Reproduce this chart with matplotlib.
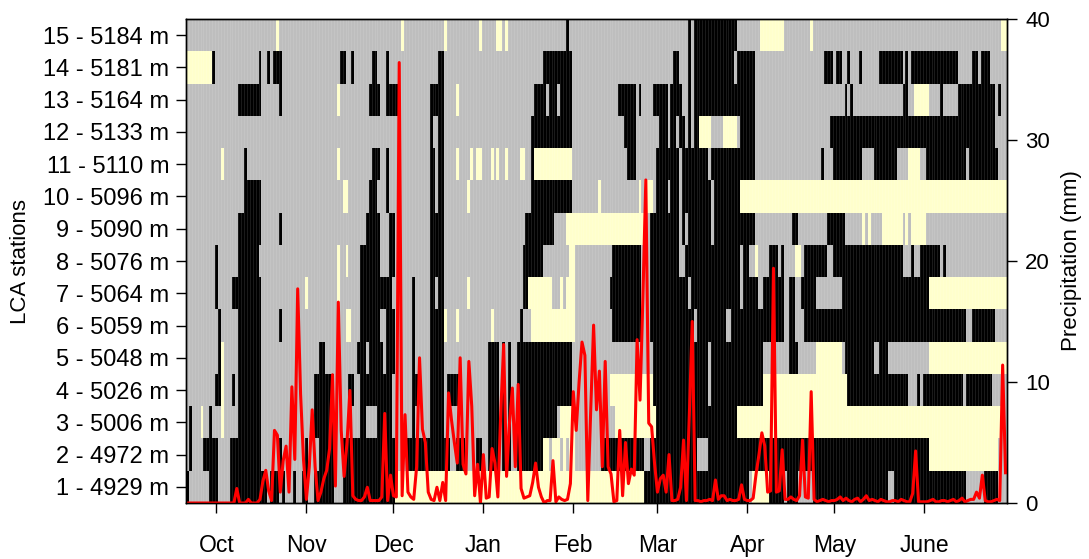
import datetime as dt

import numpy as np
import matplotlib
matplotlib.use("Agg")
import matplotlib.pyplot as plt
import matplotlib.dates as mdates
from matplotlib.colors import ListedColormap

plt.rcParams["font.family"] = ["Liberation Sans", "DejaVu Sans"]

# day 0 = 21 Sep 2011, last day = 29 Jun 2012
start = dt.date(2011, 9, 21)
ndays = 283

stations = ["1 - 4929 m", "2 - 4972 m", "3 - 5006 m", "4 - 5026 m", "5 - 5048 m",
            "6 - 5059 m", "7 - 5064 m", "8 - 5076 m", "9 - 5090 m", "10 - 5096 m",
            "11 - 5110 m", "12 - 5133 m", "13 - 5164 m", "14 - 5181 m", "15 - 5184 m"]

# runs of (state, first day, last day); b = black, y = yellow, rest is gray
st01 = [("b", 0, 0), ("b", 8, 10), ("b", 15, 25), ("b", 26, 27), ("b", 29, 31), ("b", 33, 33),
        ("b", 37, 37), ("b", 40, 41), ("b", 44, 50), ("b", 54, 71), ("y", 72, 157),
        ("b", 158, 193), ("y", 195, 200), ("b", 201, 205), ("b", 207, 210), ("b", 216, 241),
        ("b", 244, 268), ("b", 275, 279)]
st02 = [("b", 1, 1), ("b", 6, 10), ("b", 15, 25), ("b", 32, 32), ("b", 41, 41), ("b", 46, 50),
        ("b", 54, 71), ("b", 76, 90), ("b", 93, 95), ("b", 100, 101), ("b", 104, 107),
        ("b", 109, 109), ("b", 111, 111), ("b", 114, 122), ("y", 123, 124), ("y", 126, 128),
        ("y", 130, 130), ("y", 132, 133), ("b", 143, 157), ("b", 160, 175), ("b", 180, 255),
        ("y", 256, 279)]
st03 = [("b", 1, 1), ("y", 5, 5), ("b", 8, 8), ("y", 12, 12), ("b", 18, 25), ("b", 44, 50),
        ("b", 60, 61), ("b", 66, 70), ("b", 78, 78), ("b", 84, 88), ("b", 104, 107),
        ("b", 109, 109), ("b", 111, 111), ("b", 114, 127), ("y", 129, 133), ("y", 148, 161),
        ("b", 162, 189), ("y", 190, 280)]
st04 = [("b", 10, 11), ("y", 12, 12), ("b", 16, 16), ("b", 18, 25), ("b", 44, 50),
        ("b", 56, 57), ("b", 60, 70), ("b", 78, 79), ("b", 84, 88), ("b", 90, 94),
        ("b", 104, 107), ("b", 109, 109), ("b", 111, 111), ("b", 114, 132), ("y", 146, 160),
        ("b", 161, 179), ("b", 181, 198), ("y", 199, 227), ("b", 228, 248), ("b", 252, 252),
        ("b", 254, 267), ("b", 269, 277)]
st05 = [("b", 11, 11), ("y", 12, 12), ("b", 18, 25), ("b", 46, 47), ("b", 59, 61),
        ("b", 63, 67), ("b", 69, 71), ("b", 78, 78), ("b", 84, 88), ("b", 104, 107),
        ("b", 109, 109), ("b", 111, 111), ("b", 114, 132), ("b", 161, 179), ("b", 181, 198),
        ("b", 208, 210), ("y", 217, 225), ("b", 227, 236), ("b", 239, 241), ("y", 256, 282)]
st06 = [("b", 11, 11), ("b", 18, 25), ("b", 32, 32), ("y", 55, 56), ("b", 60, 66),
        ("b", 69, 71), ("b", 78, 78), ("b", 84, 88), ("y", 89, 89), ("y", 93, 93),
        ("y", 105, 105), ("b", 115, 115), ("y", 119, 133), ("b", 147, 156), ("b", 160, 174),
        ("b", 176, 185), ("b", 188, 201), ("b", 203, 205), ("b", 208, 209), ("b", 213, 268),
        ("b", 271, 278)]
st07 = [("b", 10, 10), ("b", 16, 25), ("y", 41, 41), ("y", 52, 52), ("b", 60, 66),
        ("b", 67, 70), ("b", 78, 78), ("b", 84, 85), ("b", 87, 88), ("y", 97, 97),
        ("b", 116, 117), ("y", 118, 125), ("y", 129, 129), ("y", 131, 133), ("b", 146, 156),
        ("b", 160, 172), ("b", 174, 190), ("b", 192, 196), ("b", 199, 205), ("b", 208, 209),
        ("b", 212, 216), ("b", 226, 255), ("y", 256, 282)]
st08 = [("b", 10, 10), ("b", 18, 24), ("y", 52, 52), ("y", 55, 55), ("b", 60, 66),
        ("b", 70, 71), ("b", 84, 88), ("b", 116, 122), ("y", 132, 133), ("b", 147, 156),
        ("b", 160, 169), ("b", 172, 190), ("b", 192, 193), ("y", 196, 196), ("b", 201, 203),
        ("b", 205, 205), ("y", 210, 211), ("b", 213, 220), ("b", 223, 246), ("b", 250, 250),
        ("b", 253, 259), ("b", 261, 261)]
st09 = [("b", 18, 25), ("b", 32, 32), ("b", 62, 66), ("b", 70, 71), ("b", 84, 88),
        ("b", 117, 126), ("y", 131, 131), ("y", 132, 157), ("b", 160, 169), ("b", 171, 171),
        ("b", 173, 180), ("b", 182, 195), ("b", 209, 210), ("b", 221, 226), ("y", 233, 233),
        ("y", 235, 235), ("y", 240, 246), ("y", 248, 248), ("y", 250, 254)]
st10 = [("b", 20, 25), ("y", 54, 55), ("b", 63, 65), ("b", 69, 69), ("b", 84, 85),
        ("b", 87, 88), ("y", 97, 97), ("b", 119, 132), ("y", 142, 142), ("y", 156, 156),
        ("y", 158, 160), ("b", 162, 165), ("b", 167, 169), ("b", 171, 180), ("b", 182, 190),
        ("y", 191, 282)]
st11 = [("y", 12, 12), ("b", 20, 20), ("y", 52, 52), ("b", 64, 66), ("b", 69, 69),
        ("b", 84, 85), ("b", 87, 88), ("y", 93, 93), ("y", 98, 98), ("y", 100, 101),
        ("y", 105, 105), ("y", 107, 107), ("y", 110, 110), ("y", 115, 116), ("b", 119, 119),
        ("y", 120, 132), ("b", 152, 154), ("b", 162, 169), ("b", 171, 179), ("b", 181, 195),
        ("b", 219, 219), ("b", 223, 232), ("b", 237, 244), ("y", 249, 252), ("b", 255, 268),
        ("b", 270, 279)]
st12 = [("b", 84, 84), ("b", 87, 88), ("b", 119, 132), ("b", 151, 154), ("b", 163, 165),
        ("b", 167, 168), ("b", 170, 171), ("b", 173, 173), ("b", 175, 176), ("y", 177, 180),
        ("y", 185, 189), ("b", 191, 195), ("b", 222, 278)]
st13 = [("b", 18, 25), ("b", 32, 32), ("y", 52, 52), ("b", 63, 66), ("b", 69, 72),
        ("b", 84, 88), ("y", 93, 93), ("b", 120, 123), ("b", 125, 127), ("b", 129, 132),
        ("b", 149, 154), ("b", 156, 156), ("b", 161, 165), ("b", 167, 170), ("b", 173, 173),
        ("b", 175, 195), ("b", 227, 227), ("b", 229, 229), ("b", 247, 248), ("y", 251, 255),
        ("b", 260, 260), ("b", 266, 278), ("b", 280, 280)]
st14 = [("y", 0, 8), ("b", 9, 9), ("b", 25, 25), ("b", 28, 28), ("b", 30, 32), ("b", 53, 54),
        ("b", 57, 57), ("b", 64, 65), ("b", 69, 69), ("b", 87, 88), ("b", 123, 132),
        ("b", 168, 169), ("b", 173, 173), ("b", 175, 188), ("b", 190, 195), ("b", 220, 222),
        ("b", 224, 225), ("b", 228, 228), ("b", 232, 232), ("b", 239, 246), ("b", 248, 248),
        ("b", 250, 265), ("b", 271, 272), ("b", 274, 276)]
st15 = [("y", 31, 31), ("y", 74, 74), ("y", 89, 89), ("y", 101, 101), ("y", 107, 108),
        ("y", 110, 110), ("b", 131, 131), ("b", 173, 173), ("b", 175, 189), ("y", 198, 205),
        ("y", 215, 215), ("y", 281, 282)]

# daily precipitation (mm)
precip = [0, 0, 0, 0, 0, 0, 0, 0, 0, 0, 0, 0, 0, 0, 0, 0, 0, 1.2, 0, 0,
          0, 0.3, 0, 0, 0, 0.3, 1.8, 2.7, 1.0, 0.2, 6.0, 5.6, 0.9, 3.5, 4.7, 0.9, 9.6, 3.6, 17.7, 9.0,
          3.6, 0.3, 3.0, 7.7, 3.0, 0.2, 0.9, 2.0, 2.7, 4.5, 10.6, 1.4, 16.6, 6.0, 2.2, 5.0, 9.3, 0.6, 0.3, 0.2,
          0.2, 0.5, 1.3, 0.2, 0.2, 0.2, 0.2, 0.5, 7.4, 0.2, 2.3, 0.6, 0.5, 36.4, 0.6, 7.3, 0.9, 0.5, 0.3, 3.0,
          12.0, 6.1, 5.0, 0.9, 0.3, 0.2, 1.3, 0.2, 1.7, 0.2, 9.1, 6.9, 5.0, 3.3, 12.0, 3.2, 2.4, 11.7, 8.0, 0.6,
          3.2, 0.0, 4.0, 0.4, 0.5, 4.5, 3.3, 0.5, 7.5, 13.1, 2.2, 6.6, 9.5, 3.0, 9.8, 1.2, 0.4, 0.5, 0.6, 1.7,
          3.3, 1.3, 0.5, 0.0, 0.2, 0.2, 3.5, 0.1, 0.5, 0.3, 0.2, 0.3, 1.6, 9.2, 6.0, 10.0, 13.3, 12.2, 0.2, 7.6,
          14.7, 7.7, 10.9, 3.0, 11.7, 3.0, 2.4, 0.1, 0.2, 6.0, 0.6, 5.0, 1.6, 2.8, 2.3, 13.5, 8.5, 17.0, 26.7, 6.6,
          6.3, 3.3, 0.9, 2.0, 2.3, 0.9, 4.0, 0.2, 0.2, 0.3, 1.3, 5.2, 0.2, 7.3, 15.0, 0.2, 0.2, 0.1, 0.2, 0.2,
          0.3, 0.2, 1.9, 0.3, 0.6, 0.6, 0.2, 0.3, 0.2, 0.2, 0.3, 1.5, 0.3, 0.2, 0.2, 0.4, 2.4, 4.0, 5.8, 4.7,
          0.9, 1.0, 19.4, 0.9, 1.0, 4.4, 0.3, 0.3, 0.5, 0.3, 0.2, 0.6, 5.2, 0.5, 0.4, 9.2, 0.3, 0.1, 0.2, 0.3,
          0.2, 0.1, 0.2, 0.2, 0.3, 0.5, 0.2, 0.4, 0.2, 0.1, 0.3, 0.4, 0.1, 0.3, 0.6, 0.2, 0.3, 0.2, 0.1, 0.3,
          0.2, 0.1, 0.1, 0.2, 0.2, 0.1, 0.3, 0.2, 0.1, 0.1, 0.8, 4.3, 0.1, 0.1, 0.1, 0.1, 0.2, 0.3, 0.1, 0.1,
          0.2, 0.2, 0.1, 0.2, 0.3, 0.1, 0.2, 0.4, 0.1, 0.2, 0.3, 0.3, 0.9, 0.4, 2.3, 0.2, 0.1, 0.1, 0.2, 0.3,
          0.2, 11.4, 2.5]

month_ticks = [dt.date(2011, 10, 1), dt.date(2011, 11, 1), dt.date(2011, 12, 1),
               dt.date(2012, 1, 1), dt.date(2012, 2, 1), dt.date(2012, 3, 1),
               dt.date(2012, 4, 1), dt.date(2012, 5, 1), dt.date(2012, 6, 1)]
month_labels = ["Oct", "Nov", "Dec", "Jan", "Feb", "Mar", "Apr", "May", "June"]

runs = [st01, st02, st03, st04, st05, st06, st07, st08, st09, st10, st11, st12, st13, st14, st15]
code = {"b": 1, "y": 2}
grid = np.zeros((len(stations), ndays))
for row, segs in enumerate(runs):
    for state, a, b in segs:
        grid[row, a:b + 1] = code[state]

day0 = mdates.date2num(start)
xedges = day0 + np.arange(ndays + 1) - 0.5
xdays = day0 + np.arange(len(precip))
yedges = np.arange(len(stations) + 1) + 0.5

fig = plt.figure(figsize=(10.89, 5.59), dpi=100)
ax = fig.add_axes([186 / 1089, 1 - 503 / 559, 821 / 1089, 484 / 559])

cmap = ListedColormap(["#bebebe", "#000000", "#ffffcc"])
ax.pcolormesh(xedges, yedges, grid, cmap=cmap, vmin=-0.5, vmax=2.5)
# faint seams between the day cells
ax.vlines(xedges[1:-1], 0.5, len(stations) + 0.5, color="white", alpha=0.15, lw=0.5)
ax.set_xlim(xedges[0], xedges[-1])
ax.set_ylim(0.5, len(stations) + 0.5)

ax.set_yticks(np.arange(1, len(stations) + 1))
ax.set_yticklabels(stations)
ax.set_xticks(mdates.date2num(month_ticks))
ax.set_xticklabels(month_labels)
ax.tick_params(axis="y", labelsize=17, length=7, width=1, pad=5)
ax.tick_params(axis="x", labelsize=16.5, length=7, width=1, pad=15)
ax.set_ylabel("LCA stations", fontsize=16)
ax.yaxis.set_label_coords(-0.189, 0.5)

ax2 = ax.twinx()
ax2.plot(xdays, precip, color="red", lw=2.2, solid_joinstyle="round")
ax2.set_ylim(0, 40)
ax2.set_yticks([0, 10, 20, 30, 40])
ax2.tick_params(axis="y", labelsize=16, length=7, width=1, pad=6)
ax2.set_ylabel("Precipitation (mm)", fontsize=16)
ax2.yaxis.set_label_coords(1.066, 0.5)
for a in (ax, ax2):
    for s in a.spines.values():
        s.set_linewidth(1)

fig.savefig("out.png", dpi=100)
